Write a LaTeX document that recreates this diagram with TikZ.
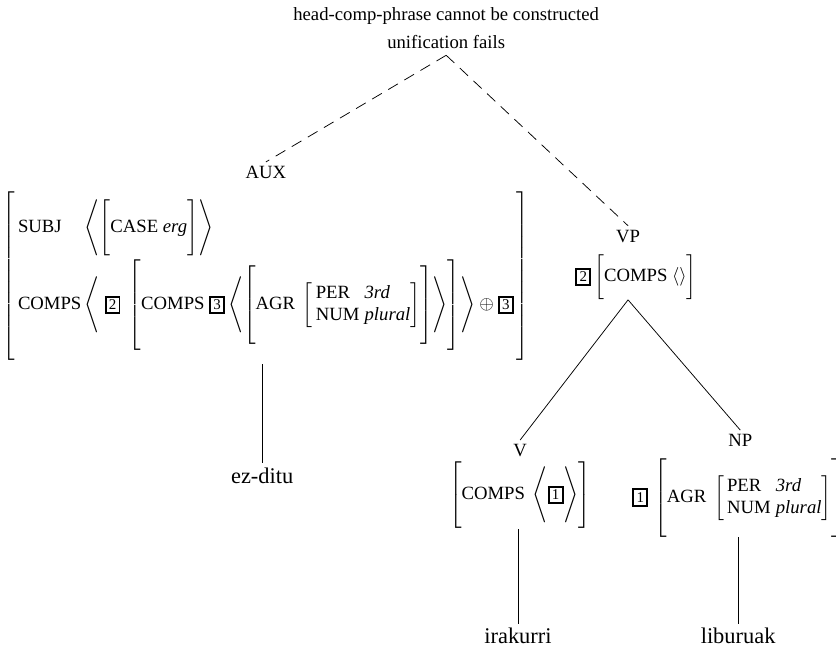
\documentclass[tikz,border=0pt]{standalone}
\usepackage{fontspec}
\setmainfont{Liberation Serif}
\setlength{\fboxsep}{1.2pt}
\setlength{\fboxrule}{1pt}
\newcommand{\tagnum}[1]{\fbox{\fontsize{8}{8}\selectfont #1}}
\newcommand{\vs}[1]{\vcenter{\hbox{\vrule height #1 depth #1 width 0pt}}}

\begin{document}
\begin{tikzpicture}
                    \useasboundingbox (0,0) rectangle (15.72,12.49);
                    \tikzset{cat/.style={inner sep=2pt}, leaf/.style={font=\large, inner sep=2pt}}
                    % failure note on top
                    \node (phrase) at (8.39,12.19) {head-comp-phrase cannot be constructed};
                    \node (fail) at (8.39,11.70) {unification fails};
                    % AUX and its feature structure
                    \node[cat] (aux) at (5.00,9.25) {AUX};
                    \node[inner sep=0pt] (auxavm) at (5.00,7.30) {$\left[\vs{47pt}\begin{array}{@{\,}l@{\,}l@{\,}}
                        \mbox{SUBJ} & \left\langle\left[\vs{15pt}\mbox{CASE \textit{erg}}\right]\right\rangle\\[10pt]
                        \mbox{COMPS} & \left\langle\;\tagnum{2}\;\left[\vs{25pt}\mbox{COMPS }\tagnum{3}\left\langle\left[\vs{20pt}\mbox{AGR }\left[\begin{array}{@{\,}l@{\;}l@{}}
                            \mbox{PER} & \mbox{\textit{3rd}}\\
                            \mbox{NUM} & \mbox{\textit{plural}}
                          \end{array}\right]\right]\right\rangle\right]\right\rangle\oplus\tagnum{3}
                      \end{array}\right]$};
                    \node[leaf] (ezditu) at (4.93,3.55) {ez-ditu};
                    % VP and its daughters
                    \node[cat] (vp) at (11.81,8.05) {VP};
                    \node[inner sep=0pt] (vpavm) at (11.96,7.28) {$\tagnum{2}\left[\vs{12pt}\mbox{COMPS }\langle\rangle\right]$};
                    \node[cat] (v) at (9.78,4.02) {V};
                    \node[inner sep=0pt] (vavm) at (9.78,3.18) {$\left[\vs{17pt}\mbox{COMPS }\left\langle\vs{14pt}\tagnum{1}\right\rangle\right]$};
                    \node[cat] (np) at (13.92,4.21) {NP};
                    \node[inner sep=0pt] (npavm) at (13.88,3.13) {$\tagnum{1}\,\left[\vs{20pt}\mbox{AGR }\left[\begin{array}{@{\,}l@{\;}l@{}}
                            \mbox{PER} & \mbox{\textit{3rd}}\\
                            \mbox{NUM} & \mbox{\textit{plural}}
                          \end{array}\right]\right]$};
                    \node[leaf] (irakurri) at (9.74,0.53) {irakurri};
                    \node[leaf] (liburuak) at (13.88,0.53) {liburuak};
                    % connectors
                    \draw[dash pattern=on 6pt off 4pt] (fail.south) -- (aux.north);
                    \draw[dash pattern=on 6pt off 4pt] (fail.south) -- (vp.north);
                    \draw (vp |- vpavm.south) -- (v.north);
                    \draw (vp |- vpavm.south) -- (np.north);
                    \draw (auxavm.south -| ezditu) -- (ezditu.north);
                    \draw (vavm.south -| irakurri) -- (irakurri.north);
                    \draw (npavm.south -| liburuak) -- (liburuak.north);
                \end{tikzpicture}
\end{document}
